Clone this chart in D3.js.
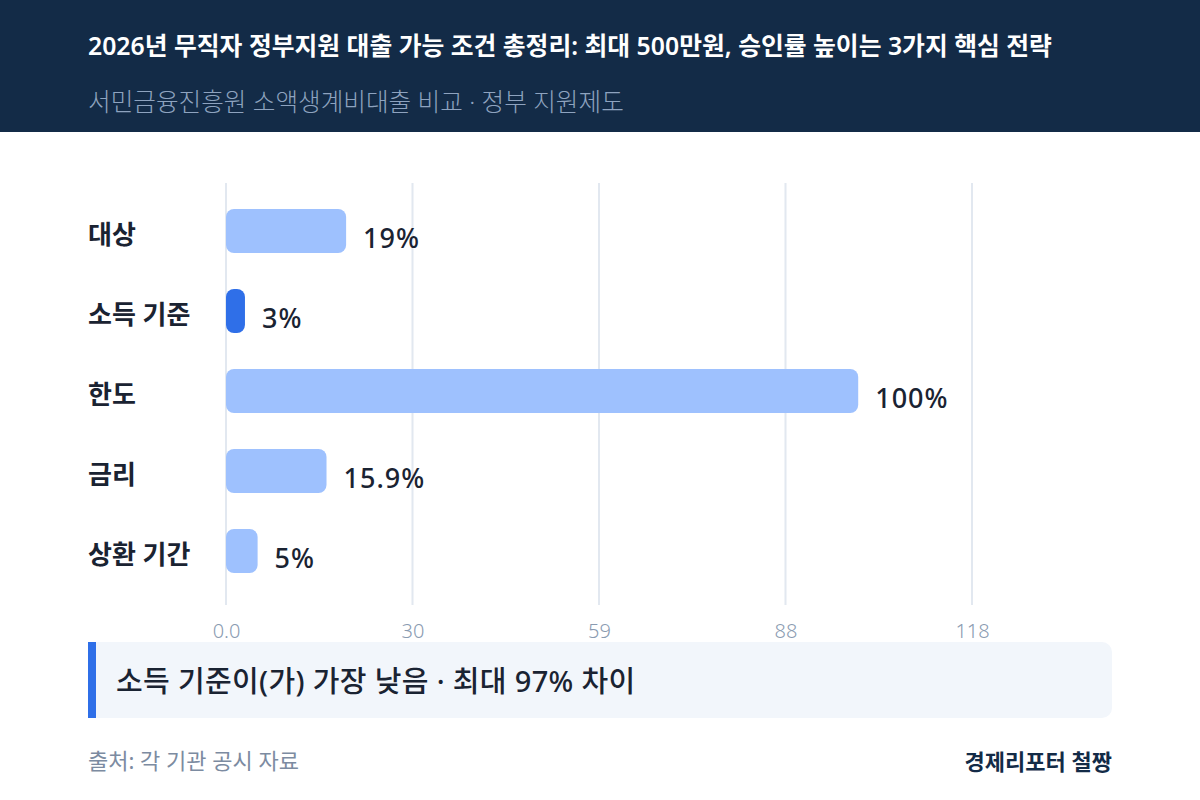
<!DOCTYPE html>
<html><head><meta charset="utf-8">
<script src="https://cdn.jsdelivr.net/npm/d3@7"></script>
<style>
html,body{margin:0;padding:0;background:#fff;}
svg{display:block;font-family:"Noto Sans","Noto Sans CJK KR",sans-serif;}
</style></head>
<body>
<script>
const categories = ["대상","소득 기준","한도","금리","상환 기간"];
const values = [19, 3, 100, 15.9, 5];
const valueLabels = ["19%","3%","100%","15.9%","5%"];
const highlight = "소득 기준";
const tickValues = [0, 29.5, 59, 88.5, 118];
const tickLabels = ["0.0","30","59","88","118"];
const title = "2026년 무직자 정부지원 대출 가능 조건 총정리: 최대 500만원, 승인률 높이는 3가지 핵심 전략";
const subtitle = "서민금융진흥원 소액생계비대출 비교 · 정부 지원제도";
const calloutText = "소득 기준이(가) 가장 낮음 · 최대 97% 차이";
const sourceText = "출처: 각 기관 공시 자료";
const brandText = "경제리포터 철짱";

const W = 1200, H = 800;
const svg = d3.select("body").append("svg").attr("width", W).attr("height", H);

// header
svg.append("rect").attr("x",0).attr("y",0).attr("width",W).attr("height",132).attr("fill","#132b47");
svg.append("text").attr("x",88).attr("y",55).attr("fill","#ffffff").attr("font-size",24.8).attr("font-weight",600).text(title);
svg.append("text").attr("x",88).attr("y",111).attr("fill","#8ea3bf").attr("font-size",24.6).attr("font-weight",300).text(subtitle);

const x = d3.scaleLinear().domain([0,118]).range([226,972]);
const y = d3.scaleBand().domain(categories).range([191,591]).paddingInner(0.45).paddingOuter(0.225);

// grid
svg.append("g").selectAll("line").data(tickValues).join("line")
  .attr("x1",d=>x(d)).attr("x2",d=>x(d)).attr("y1",183).attr("y2",605)
  .attr("stroke","#e2e8f0").attr("stroke-width",2);

// tick labels
const axis = d3.axisBottom(x).tickValues(tickValues).tickSize(0).tickFormat((d,i)=>tickLabels[i]);
const ag = svg.append("g").attr("transform","translate(0,638)").call(axis);
ag.select(".domain").remove();
ag.selectAll("text").attr("fill","#8a9bb1").attr("font-size",20).attr("font-weight",300)
  .attr("font-family","'Noto Sans','Noto Sans CJK KR',sans-serif").attr("dy",0).attr("y",0);

// bars
const bh = y.bandwidth();
svg.append("g").selectAll("rect").data(categories).join("rect")
  .attr("x",x(0)).attr("y",d=>y(d)).attr("height",bh)
  .attr("width",(d,i)=>x(values[i])-x(0))
  .attr("rx",(d,i)=>Math.min(8,(x(values[i])-x(0))/2))
  .attr("fill",d=>d===highlight?"#2f6fe8":"#9ec1fe");

// category labels
svg.append("g").selectAll("text").data(categories).join("text")
  .attr("x",88).attr("y",d=>y(d)+bh/2+13)
  .attr("fill","#1a2332").attr("font-size",26).attr("font-weight",700).text(d=>d);

// value labels
svg.append("g").selectAll("text").data(categories).join("text")
  .attr("x",(d,i)=>x(values[i])+17).attr("y",d=>y(d)+bh/2+17)
  .attr("fill","#1a2332").attr("font-size",27).attr("font-weight",500).attr("letter-spacing",1)
  .text((d,i)=>valueLabels[i]);

// callout
svg.append("rect").attr("x",88).attr("y",642).attr("width",1024).attr("height",76).attr("rx",10).attr("fill","#f2f6fb");
svg.append("rect").attr("x",88).attr("y",642).attr("width",8).attr("height",76).attr("fill","#2f6fe8");
svg.append("text").attr("x",116).attr("y",692).attr("fill","#1a2332").attr("font-size",29).attr("font-weight",500).attr("letter-spacing",0.35).text(calloutText);

// footer
svg.append("text").attr("x",88).attr("y",769).attr("fill","#7c8ba1").attr("font-size",22).attr("font-weight",400).text(sourceText);
svg.append("text").attr("x",1112).attr("y",770).attr("text-anchor","end").attr("fill","#132b47").attr("font-size",22).attr("font-weight",700).text(brandText);
</script>
</body></html>
